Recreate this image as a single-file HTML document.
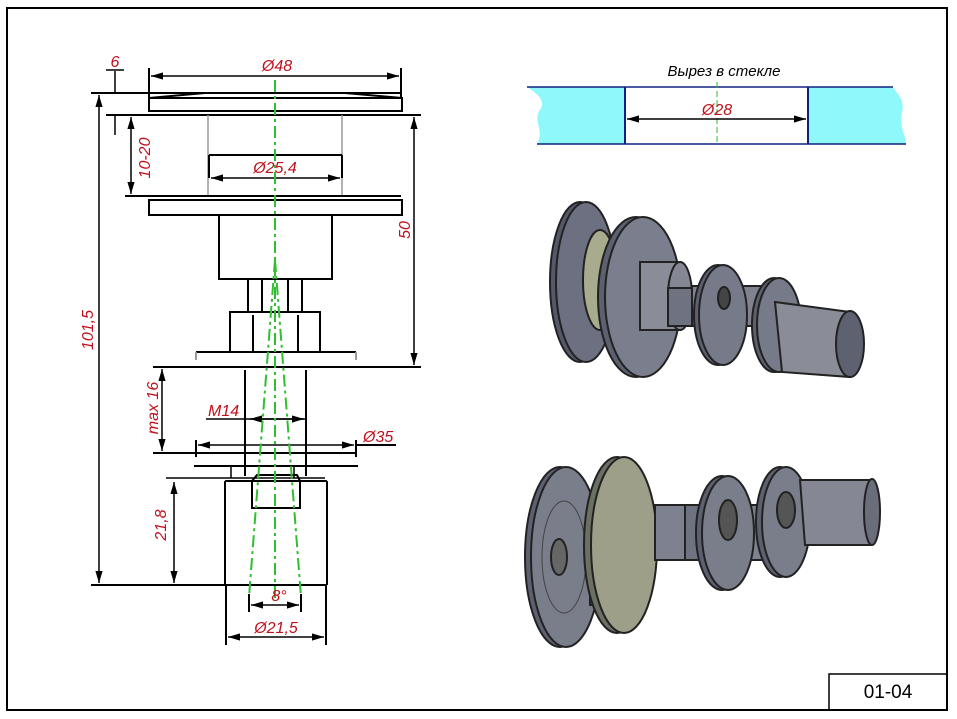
<!DOCTYPE html>
<html><head><meta charset="utf-8"><style>
html,body{margin:0;padding:0;background:#fff}
svg{display:block}
text{font-family:"Liberation Sans",sans-serif;font-style:italic;fill:#c0101c;font-size:16px}
</style></head><body>
<svg width="957" height="719" viewBox="0 0 957 719" xmlns="http://www.w3.org/2000/svg">
<defs>
<marker id="a" viewBox="0 0 10 6" refX="10" refY="3" markerWidth="8" markerHeight="5" orient="auto-start-reverse"><path d="M0,0L10,3L0,6z" fill="#000"/></marker>
</defs>
<rect x="7" y="8" width="940" height="702" fill="none" stroke="#000" stroke-width="2"/>
<rect x="829" y="674" width="118" height="36" fill="none" stroke="#000" stroke-width="1.5"/>
<text x="888" y="698" text-anchor="middle" style="font-style:normal;fill:#000;font-size:19px">01-04</text>

<g stroke="#000" stroke-width="2" fill="none">
<path d="M91,93H402 M149,98L205,93 M345,93L402,98 M106,115H421"/>
<rect x="149" y="98" width="253" height="13"/>
<path d="M149,68V98 M401,68V98"/>
<line x1="151" y1="76" x2="399" y2="76" stroke-width="1.5" marker-start="url(#a)" marker-end="url(#a)"/>
<path d="M106,70H124 M115,71V93 M115,115V135" stroke-width="1.5"/>
<path d="M208,115V196 M342,115V196" stroke="#999" stroke-width="1.5"/>
<path d="M209,155H342 M209,155V178 M342,155V178"/>
<line x1="211" y1="178" x2="340" y2="178" stroke-width="1.5" marker-start="url(#a)" marker-end="url(#a)"/>
<line x1="131" y1="117" x2="131" y2="194" stroke-width="1.5" marker-start="url(#a)" marker-end="url(#a)"/>
<path d="M125,196H401"/>
<rect x="149" y="200" width="253" height="15"/>
<rect x="219" y="215" width="113" height="64"/>
<path d="M248,279V312 M262,279V312 M288,279V312 M302,279V312"/>
<rect x="230" y="312" width="90" height="40"/>
<path d="M253,315V352 M298,315V352"/>
<path d="M196,352H356" /><path d="M196,352V360 M356,352V360" stroke="#999"/>
<path d="M153,367H421"/>
<line x1="414" y1="117" x2="414" y2="365" stroke-width="1.5" marker-start="url(#a)" marker-end="url(#a)"/>
<line x1="99" y1="95" x2="99" y2="583" stroke-width="1.5" marker-start="url(#a)" marker-end="url(#a)"/>
<path d="M245,370V476 M306,370V476"/>
<line x1="206" y1="419" x2="306" y2="419" stroke-width="1.5"/>
<line x1="250" y1="419" x2="304" y2="419" stroke-width="1.5" marker-start="url(#a)" marker-end="url(#a)"/>
<line x1="162" y1="369" x2="162" y2="451" stroke-width="1.5" marker-start="url(#a)" marker-end="url(#a)"/>
<path d="M153,453H196 M196,453H356 M196,440V457 M356,440V457 M356,445H396"/>
<line x1="198" y1="445" x2="354" y2="445" stroke-width="1.5" marker-start="url(#a)" marker-end="url(#a)"/>
<path d="M194,466H358"/>
<path d="M231,466V478 M294,466V478 M166,478H325" stroke-width="1.5"/>
<path d="M225,481V585 M327,481V585 M225,481H327" />
<path d="M252,481L257,475H297L300,481V508H252Z"/>
<path d="M91,585H327"/>
<line x1="174" y1="482" x2="174" y2="583" stroke-width="1.5" marker-start="url(#a)" marker-end="url(#a)"/>
<path d="M226,585V645 M326,585V645 M249,594V612 M301,594V612"/>
<line x1="228" y1="637" x2="324" y2="637" stroke-width="1.5" marker-start="url(#a)" marker-end="url(#a)"/>
<line x1="251" y1="605" x2="299" y2="605" stroke-width="1.5" marker-start="url(#a)" marker-end="url(#a)"/>
</g>
<g stroke="#2fbf2f" stroke-width="2" stroke-dasharray="12,4,3,4" fill="none">
<path d="M275,80V600 M275,260L249,597 M275,260L301,597"/>
</g>
<text x="115" y="67" text-anchor="middle">6</text>
<text x="277" y="71" text-anchor="middle">Ø48</text>
<text x="275" y="173" text-anchor="middle">Ø25,4</text>
<text x="208" y="416">M14</text>
<text x="363" y="442">Ø35</text>
<text x="279" y="601" text-anchor="middle">8°</text>
<text x="276" y="633" text-anchor="middle">Ø21,5</text>
<text transform="translate(150,158) rotate(-90)" text-anchor="middle">10-20</text>
<text transform="translate(410,230) rotate(-90)" text-anchor="middle">50</text>
<text transform="translate(93,330) rotate(-90)" text-anchor="middle">101,5</text>
<text transform="translate(158,408) rotate(-90)" text-anchor="middle">max 16</text>
<text transform="translate(166,525) rotate(-90)" text-anchor="middle">21,8</text>

<path d="M527,87H625V144H537C545,130 532,120 540,110C547,100 535,92 527,87Z" fill="#8ff8fa"/>
<path d="M808,87H893C898,95 905,100 902,112C898,125 906,135 906,144H808Z" fill="#8ff8fa"/>
<path d="M527,87H893 M537,144H906" stroke="#102080" stroke-width="1.5"/>
<path d="M625,87V144 M808,87V144" stroke="#102080" stroke-width="2"/>
<line x1="717" y1="82" x2="717" y2="145" stroke="#2fbf2f" stroke-width="1" stroke-dasharray="6,3"/>
<line x1="627" y1="119" x2="806" y2="119" stroke="#000" stroke-width="1.5" marker-start="url(#a)" marker-end="url(#a)"/>
<text x="717" y="115" text-anchor="middle">Ø28</text>
<text x="724" y="76" text-anchor="middle" style="fill:#000;font-size:15px">Вырез в стекле</text>

<!-- 3D top -->
<g stroke="#222" stroke-width="2">
<ellipse cx="580" cy="282" rx="30" ry="80" fill="#55586a"/>
<ellipse cx="586" cy="282" rx="30" ry="80" fill="#6d7080"/>
<ellipse cx="600" cy="280" rx="17" ry="50" fill="#a8ab8e"/>
<ellipse cx="636" cy="297" rx="38" ry="80" fill="#5d6070"/>
<ellipse cx="643" cy="297" rx="38" ry="80" fill="#7b7e8c"/>
<rect x="670" y="286" width="110" height="40" fill="#80838f"/>
<path d="M640,262H680V330H640Z" fill="#8a8d98"/>
<ellipse cx="680" cy="296" rx="12" ry="34" fill="#858894"/>
<rect x="668" y="288" width="24" height="38" fill="#6f7280"/>
<ellipse cx="718" cy="315" rx="24" ry="50" fill="#5d6070"/>
<ellipse cx="723" cy="315" rx="24" ry="50" fill="#777a88"/>
<ellipse cx="724" cy="298" rx="6" ry="11" fill="#444"/>
<ellipse cx="774" cy="325" rx="22" ry="47" fill="#5d6070"/>
<ellipse cx="779" cy="325" rx="22" ry="47" fill="#777a88"/>
<path d="M775,302L850,312L850,377L782,372Z" fill="#8a8d98"/>
<ellipse cx="850" cy="344" rx="14" ry="33" fill="#5e6170"/>
</g>
<!-- 3D bottom -->
<g stroke="#222" stroke-width="2">
<ellipse cx="560" cy="557" rx="35" ry="90" fill="#5d6070"/>
<ellipse cx="566" cy="557" rx="35" ry="90" fill="#7a7d8a"/>
<ellipse cx="564" cy="557" rx="22" ry="56" fill="none" stroke="#444" stroke-width="1"/>
<ellipse cx="559" cy="557" rx="8" ry="18" fill="#666"/>
<rect x="590" y="495" width="30" height="110" fill="#7a8090"/>
<ellipse cx="617" cy="545" rx="33" ry="88" fill="#6c7062"/>
<ellipse cx="624" cy="545" rx="33" ry="88" fill="#9d9f88"/>
<rect x="655" y="505" width="140" height="55" fill="#7e8190"/>
<path d="M685,505H715V560H685Z" fill="#6f7280"/>
<ellipse cx="722" cy="533" rx="26" ry="57" fill="#5d6070"/>
<ellipse cx="728" cy="533" rx="26" ry="57" fill="#7a7d8a"/>
<ellipse cx="728" cy="520" rx="9" ry="20" fill="#555"/>
<ellipse cx="780" cy="522" rx="24" ry="55" fill="#5d6070"/>
<ellipse cx="786" cy="522" rx="24" ry="55" fill="#7a7d8a"/>
<ellipse cx="786" cy="510" rx="9" ry="18" fill="#555"/>
<path d="M800,480H870V545H805Z" fill="#858894"/>
<ellipse cx="872" cy="512" rx="8" ry="33" fill="#6a6d7a"/>
</g>
</svg>
</body></html>
